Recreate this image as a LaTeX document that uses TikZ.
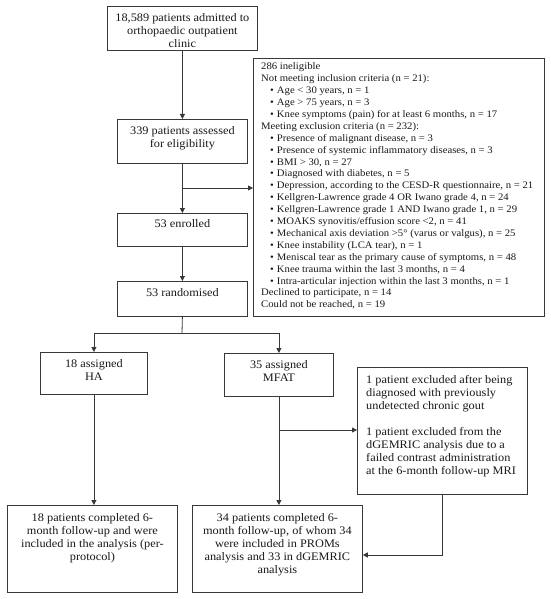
\documentclass[tikz,border=0pt]{standalone}
\usepackage{fontspec}
\setmainfont{Liberation Serif}[FakeStretch=1.07]
\usetikzlibrary{arrows.meta}
\newcommand{\bul}{\hspace*{9pt}\textbullet\hspace{3pt}}
\begin{document}
\begin{tikzpicture}[x=1pt,y=-1pt,
  box/.style={draw=black!78, line width=0.8pt, anchor=north west, inner sep=0pt},
  txt/.style={anchor=north, align=center, inner sep=0pt, text=black!90, font=\fontsize{11.5}{13}\selectfont},
  ltxt/.style={anchor=north west, align=left, inner sep=0pt, text=black!90, font=\fontsize{11.5}{13}\selectfont},
  bigtxt/.style={anchor=base west, inner sep=0pt, text=black!90, font=\fontsize{10}{12}\selectfont},
  arr/.style={draw=black!78, line width=0.8pt, -{Triangle[length=5pt,width=5pt]}},
  ln/.style={draw=black!78, line width=0.8pt}]
\useasboundingbox[fill=white] (0,0) rectangle (550,599);

% boxes
\node[box, minimum width=150pt, minimum height=44pt] (b1) at (107,6) {};
\node[box, minimum width=130pt, minimum height=44pt] (b2) at (117,119) {};
\node[box, minimum width=291pt, minimum height=258pt] (big) at (253,58) {};
\node[box, minimum width=130pt, minimum height=33pt] (enr) at (117,213) {};
\node[box, minimum width=130pt, minimum height=35pt] (rnd) at (117,281) {};
\node[box, minimum width=107pt, minimum height=42pt] (ha) at (40,352) {};
\node[box, minimum width=109pt, minimum height=43pt] (mfat) at (224,353) {};
\node[box, minimum width=170pt, minimum height=127pt] (gout) at (357,367) {};
\node[box, minimum width=170pt, minimum height=87pt] (bl) at (7,505) {};
\node[box, minimum width=170pt, minimum height=87pt] (br) at (192,505) {};

% texts
\node[txt] (t1) at ([yshift=-7.3pt]b1.north) {18,589 patients admitted to\\orthopaedic outpatient\\clinic};
\node[txt] (t2) at ([yshift=-7.3pt]b2.north) {339 patients assessed\\for eligibility};
\node[txt] (t3) at ([yshift=-6.6pt]enr.north) {53 enrolled};
\node[txt] (t4) at ([yshift=-7.3pt]rnd.north) {53 randomised};
\node[txt] (t5) at ([yshift=-7.3pt]ha.north) {18 assigned\\HA};
\node[txt] (t6) at ([yshift=-7.3pt]mfat.north) {35 assigned\\MFAT};
\node[txt] (t7) at ([yshift=-8.3pt]bl.north) {18 patients completed 6-\\month follow-up and were\\included in the analysis (per-\\protocol)};
\node[txt] (t8) at ([yshift=-8.3pt]br.north) {34 patients completed 6-\\month follow-up, of whom 34\\were included in PROMs\\analysis and 33 in dGEMRIC\\analysis};
\node[ltxt] (t9) at ([xshift=9pt,yshift=-8.3pt]gout.north west) {1 patient excluded after being\\diagnosed with previously\\undetected chronic gout\\[13pt]1 patient excluded from the\\dGEMRIC analysis due to a\\failed contrast administration\\at the 6-month follow-up MRI};

% exclusion list, one node per line
\foreach \txtline [count=\i from 0] in {
 {286 ineligible},
 {Not meeting inclusion criteria (n = 21):},
 {\bul Age < 30 years, n = 1},
 {\bul Age > 75 years, n = 3},
 {\bul Knee symptoms (pain) for at least 6 months, n = 17},
 {Meeting exclusion criteria (n = 232):},
 {\bul Presence of malignant disease, n = 3},
 {\bul Presence of systemic inflammatory diseases, n = 3},
 {\bul BMI > 30, n = 27},
 {\bul Diagnosed with diabetes, n = 5},
 {\bul Depression, according to the CESD-R questionnaire, n = 21},
 {\bul Kellgren-Lawrence grade 4 OR Iwano grade 4, n = 24},
 {\bul Kellgren-Lawrence grade 1 AND Iwano grade 1, n = 29},
 {\bul MOAKS synovitis/effusion score <2, n = 41},
 {\bul Mechanical axis deviation >5° (varus or valgus), n = 25},
 {\bul Knee instability (LCA tear), n = 1},
 {\bul Meniscal tear as the primary cause of symptoms, n = 48},
 {\bul Knee trauma within the last 3 months, n = 4},
 {\bul Intra-articular injection within the last 3 months, n = 1},
 {Declined to participate, n = 14},
 {Could not be reached, n = 19}}
 {\node[bigtxt] (x\i) at ([xshift=8pt]big.west |- 0,{69.8+11.9*\i}) {\txtline};}

% connectors
\draw[arr] (b1) -- (b2);
\coordinate (j1) at (182,188);
\draw[arr] (j1) -- (j1 -| big.west);
\draw[arr] (b2) -- (enr);
\draw[arr] (enr) -- (rnd);
\coordinate (j2) at (182,333);
\draw[ln] (rnd.south) -- (j2);
\draw[arr] (j2) -| (ha.north);
\draw[arr] (j2) -| (mfat.north);
\draw[arr] (ha.south) -- (ha.south |- bl.north);
\draw[arr] (mfat.south) -- (mfat.south |- br.north);
\coordinate (j3) at (mfat.south |- 0,430);
\draw[arr] (j3) -- (j3 -| gout.west);
\coordinate (j4) at (br.east |- 0,555);
\draw[arr] (gout.south) |- (j4);
\end{tikzpicture}
\end{document}
